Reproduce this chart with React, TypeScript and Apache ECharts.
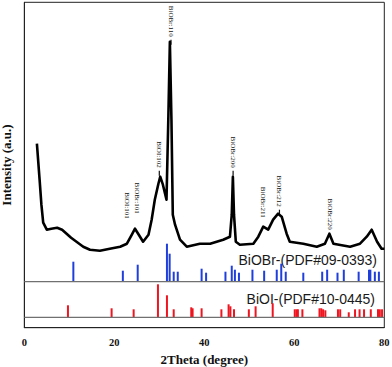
import React, { useEffect, useRef } from "react";
import * as echarts from "echarts";

// XRD pattern of the composite (2θ in degrees, intensity in a.u.)
const curveTheta = [2.8, 3.4, 3.8, 4.2, 5.0, 6.0, 7.3, 8.4, 9.4, 10.4, 11.6, 13.1, 14.6, 16.8, 19.0, 21.3, 22.8, 23.9, 24.6, 25.3, 26.4, 27.6, 28.3, 29.0, 29.8, 30.2, 30.8, 31.6, 32.0, 32.35, 32.7, 33.0, 33.5, 34.6, 36.1, 39.0, 41.3, 44.2, 45.7, 46.1, 46.35, 46.6, 47.0, 47.9, 50.9, 52.0, 53.1, 54.2, 55.3, 56.4, 57.2, 58.3, 59.0, 62.0, 65.0, 66.8, 67.8, 68.7, 72.4, 74.6, 76.1, 77.2, 78.4, 79.4, 80.0];
const curveIntensity = [184, 148, 123, 105, 98, 99, 100, 98, 94, 90, 86, 81, 78, 77, 79, 81, 84, 93, 99, 94, 86, 93, 108, 128, 144, 151, 143, 128, 208, 286, 208, 113, 103, 88, 81, 84, 84, 88, 91, 113, 151, 113, 86, 83, 84, 91, 101, 98, 108, 114, 111, 94, 86, 84, 81, 84, 94, 84, 81, 84, 91, 98, 86, 79, 79];

// BiOBr reference pattern (PDF#09-0393)
const blueBase = 46;
const blueTheta = [10.9, 21.9, 25.2, 31.7, 32.3, 33.2, 34.1, 39.4, 40.4, 44.7, 46.1, 46.8, 47.7, 50.7, 53.3, 56.1, 57.1, 58.1, 62.0, 66.2, 67.3, 69.6, 71.0, 74.3, 76.6, 76.9, 77.9, 78.8];
const blueHeight = [20, 11, 17, 38, 28, 10, 10, 13, 9, 10, 16, 12, 9, 12, 11, 12, 18, 10, 9, 10, 12, 9, 12, 10, 12, 12, 10, 10];

// BiOI reference pattern (PDF#10-0445)
const redBase = 10.4;
const redTheta = [9.7, 19.4, 24.3, 29.7, 31.7, 33.2, 37.1, 37.4, 39.4, 43.8, 45.4, 45.8, 46.6, 49.9, 51.4, 55.2, 60.1, 60.5, 60.8, 61.8, 65.6, 66.0, 66.4, 66.9, 69.7, 70.2, 72.1, 73.5, 74.5, 75.5, 77.0, 78.6, 79.0, 79.5];
const redHeight = [12, 9, 8, 33, 22, 8, 10, 9, 9, 8, 13, 11, 8, 8, 11, 14, 8, 8, 8, 8, 9, 9, 8, 7, 8, 8, 5, 8, 8, 8, 8, 8, 8, 8];

// peak annotations
const annLabels = ["BiOBr:110", "BiOI:102", "BiOBr:101", "BiOI:101", "BiOBr:200", "BiOBr:211", "BiOBr:212", "BiOBr:220"];
const annTheta = [32.6, 30.0, 25.0, 22.8, 46.4, 53.0, 56.7, 67.9];
const annY = [291, 160, 114, 109, 160, 110, 121, 98];
const annDash = [true, true, false, false, true, false, true, false];

const xTicks = [0, 20, 40, 60, 80];
const refNames = ["BiOBr-(PDF#09-0393)", "BiOI-(PDF#10-0445)"];

const SERIF = "'Liberation Serif', 'Times New Roman', serif";
const SANS = "'Liberation Sans', Arial, sans-serif";

export default function App() {
  const ref = useRef<HTMLDivElement>(null);
  useEffect(() => {
    if (!ref.current) return;
    const chart = echarts.init(ref.current, null, { renderer: "svg" });

    const barItem = (color: string) => (params: any, api: any) => {
      const x = api.value(0);
      const h = api.value(1);
      const base = api.value(2);
      const p0 = api.coord([x, base]);
      const p1 = api.coord([x, base + h]);
      return {
        type: "rect",
        shape: { x: p0[0] - 1, y: p1[1], width: 2, height: p0[1] - p1[1] },
        style: { fill: color },
      };
    };

    const option: any = {
      animation: false,
      grid: {
        left: 24.3,
        right: 7.7,
        top: 2.3,
        bottom: 39.3,
        show: true,
        borderColor: "#222",
        borderWidth: 1,
        containLabel: false,
        outerBoundsMode: "none",
      },
      xAxis: {
        type: "value",
        min: xTicks[0],
        max: xTicks[xTicks.length - 1],
        interval: 20,
        name: "2Theta (degree)",
        nameLocation: "middle",
        nameGap: 23,
        nameTextStyle: { fontFamily: SERIF, fontWeight: "bold", fontSize: 13, color: "#111" },
        axisLine: { show: true, lineStyle: { color: "#222", width: 1 } },
        axisTick: { show: false },
        axisLabel: { fontFamily: SERIF, fontWeight: "bold", fontSize: 10.5, color: "#111", margin: 9 },
        splitLine: { show: false },
      },
      yAxis: {
        type: "value",
        min: 0,
        max: 325.4,
        name: "Intensity (a.u.)",
        nameLocation: "middle",
        nameGap: 11,
        nameTextStyle: { fontFamily: SERIF, fontWeight: "bold", fontSize: 13, color: "#111" },
        axisLine: { show: true, lineStyle: { color: "#222", width: 1 } },
        axisTick: { show: false },
        axisLabel: { show: false },
        splitLine: { show: false },
      },
      series: [
        {
          type: "line",
          data: [[0, blueBase], [80, blueBase]],
          symbol: "none",
          lineStyle: { color: "#707070", width: 1.2 },
          silent: true,
        },
        {
          type: "line",
          data: [[0, redBase], [80, redBase]],
          symbol: "none",
          lineStyle: { color: "#707070", width: 1.2 },
          silent: true,
        },
        {
          type: "custom",
          renderItem: barItem("#1f3fdc"),
          data: blueTheta.map((t, i) => [t, blueHeight[i], blueBase]),
          encode: { x: 0, y: 1 },
        },
        {
          type: "custom",
          renderItem: barItem("#f0141e"),
          data: redTheta.map((t, i) => [t, redHeight[i], redBase]),
          encode: { x: 0, y: 1 },
        },
        {
          type: "line",
          data: curveTheta.map((t, i) => [t, curveIntensity[i]]),
          symbol: "none",
          lineStyle: { color: "#000", width: 2.6, join: "round" },
        },
        {
          type: "custom",
          renderItem: (params: any, api: any) => {
            const i = params.dataIndex;
            const p = api.coord([api.value(0), api.value(1)]);
            const children: any[] = [
              {
                type: "text",
                x: p[0],
                y: p[1],
                rotation: -Math.PI / 2,
                style: {
                  text: annLabels[i],
                  fontSize: 7,
                  fontFamily: SERIF,
                  fill: "#111",
                  align: "right",
                  verticalAlign: "middle",
                },
              },
            ];
            if (annDash[i]) {
              children.push({
                type: "line",
                shape: { x1: p[0], y1: p[1] + 3, x2: p[0], y2: p[1] + 8 },
                style: { stroke: "#111", lineWidth: 1.2 },
              });
            }
            return { type: "group", children };
          },
          data: annTheta.map((t, i) => [t, annY[i]]),
          encode: { x: 0, y: 1 },
        },
      ],
      graphic: [
        {
          type: "text",
          x: 377,
          y: 259.5,
          style: {
            text: refNames[0],
            fontFamily: SANS,
            fontSize: 14,
            fill: "#1a1a1a",
            align: "right",
            verticalAlign: "middle",
          },
        },
        {
          type: "text",
          x: 375,
          y: 298.5,
          style: {
            text: refNames[1],
            fontFamily: SANS,
            fontSize: 14,
            fill: "#1a1a1a",
            align: "right",
            verticalAlign: "middle",
          },
        },
      ],
    };
    chart.setOption(option);
    return () => chart.dispose();
  }, []);
  return (
    <div
      ref={ref}
      style={{ position: "fixed", left: 0, top: 0, width: 392, height: 367, background: "#fff" }}
    />
  );
}
